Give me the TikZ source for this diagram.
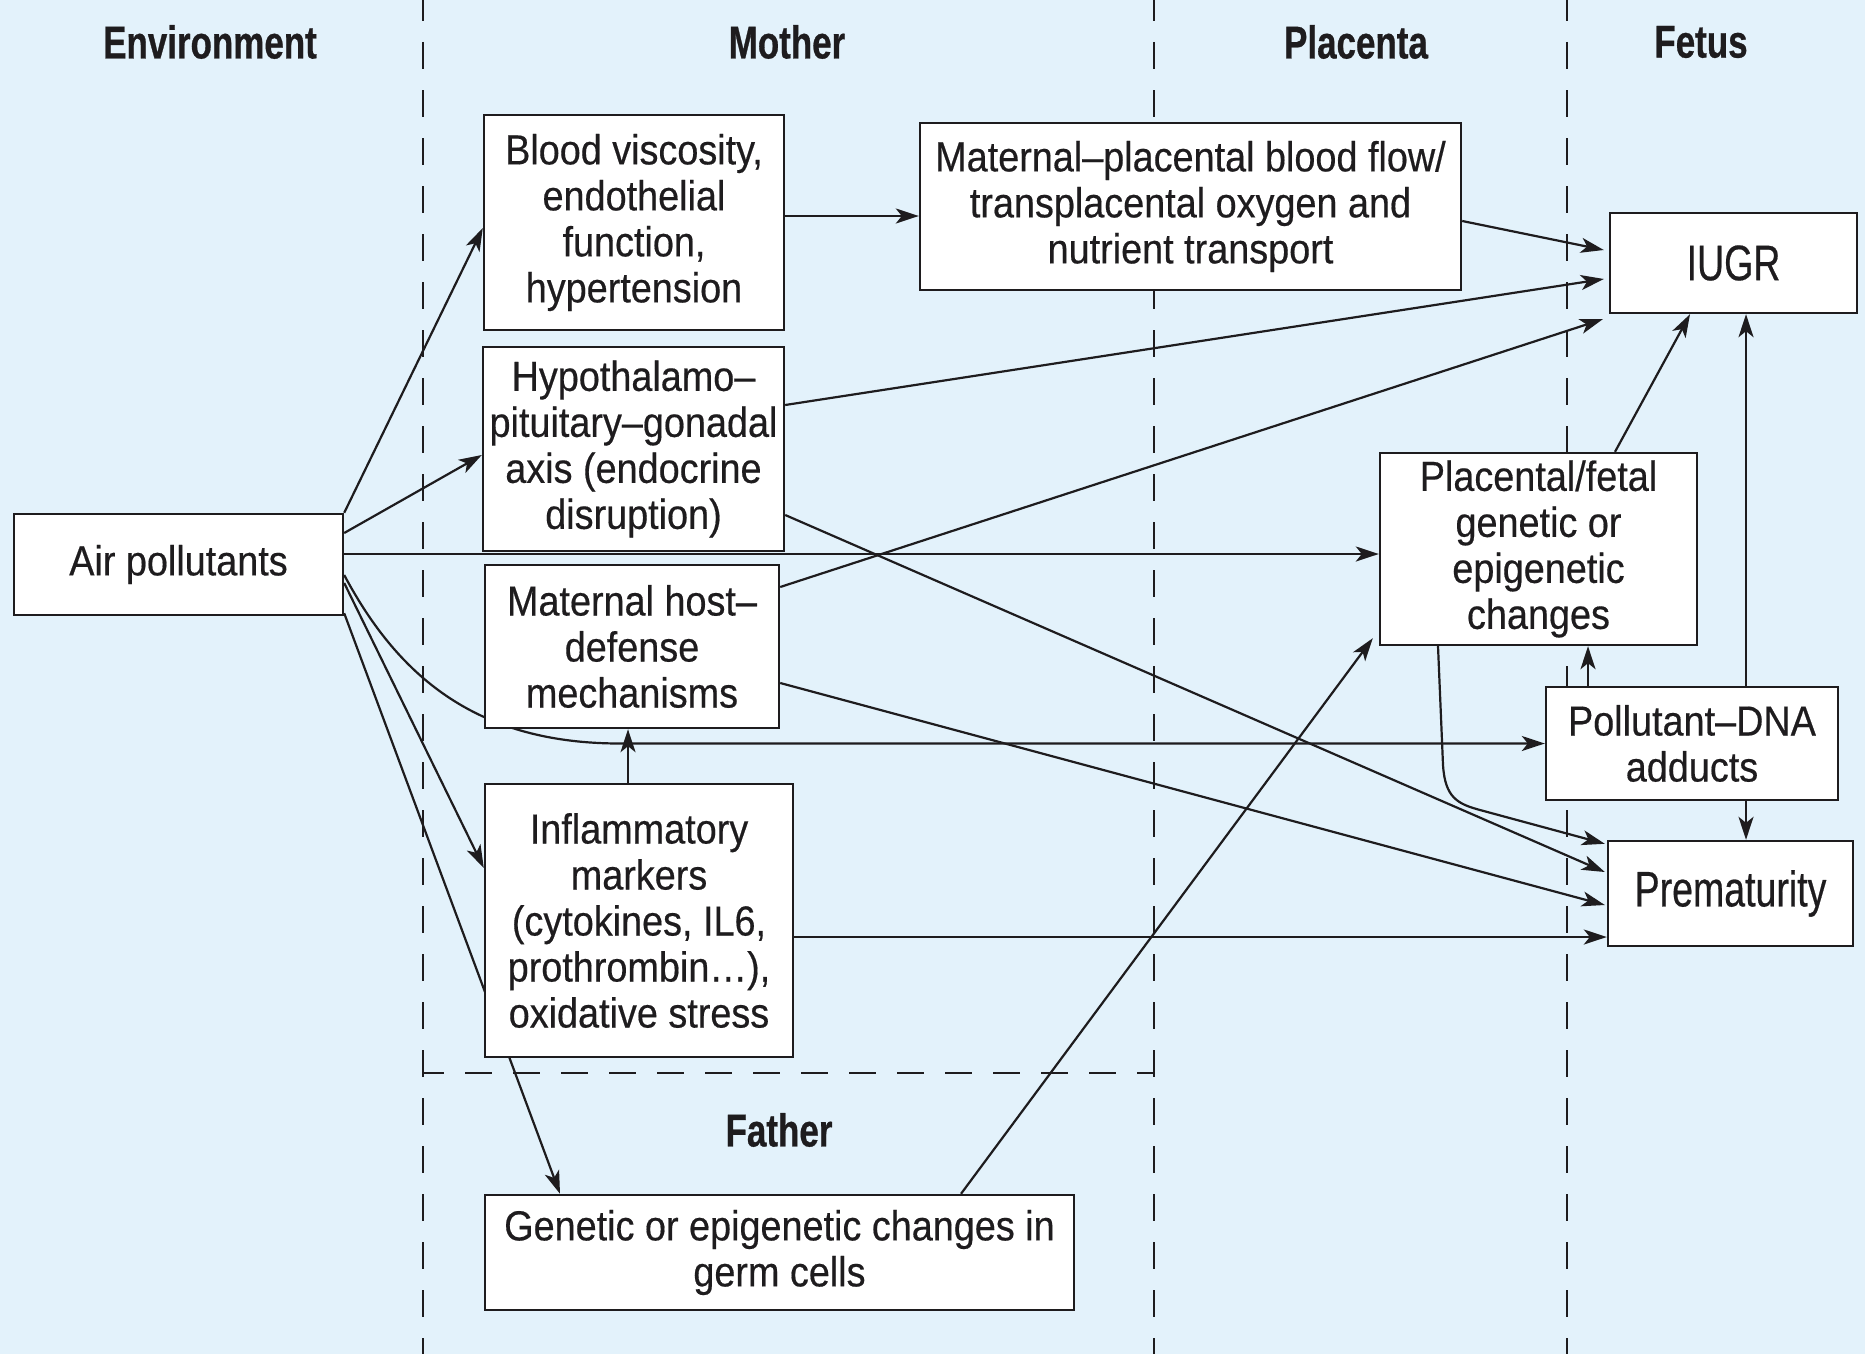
\documentclass[tikz,border=0pt]{standalone}
\usepackage{fontspec}
\setmainfont[FakeStretch=0.9,FakeBold=0.4]{Liberation Sans}
\newfontfamily\headfont[FakeStretch=0.76,FakeBold=0.6]{Liberation Sans}
\newfontfamily\bigfont[FakeStretch=0.75,FakeBold=0.4]{Liberation Sans}
\usetikzlibrary{arrows.meta}
\definecolor{bgblue}{RGB}{227,242,251}
\definecolor{ink}{RGB}{30,28,30}
\pgfdeclarelayer{bg}
\pgfdeclarelayer{lines}
\pgfsetlayers{bg,lines,main}
\begin{document}
\begin{tikzpicture}[x=1pt,y=-1pt,
  box/.style={draw=ink,line width=2.4pt,fill=white,inner sep=0pt,align=center,text=ink,
    font=\fontsize{42}{46}\selectfont},
  bigbox/.style={box,font=\bigfont\fontsize{50}{54}\selectfont},
  head/.style={text=ink,inner sep=0pt,font=\headfont\bfseries\fontsize{46}{50}\selectfont},
  conn/.style={draw=ink,line width=2.2pt,-{Stealth[length=23pt,width=15pt,inset=6pt]}},
  divider/.style={draw=ink,line width=2pt,dash pattern=on 27pt off 21pt,dash phase=6pt}]
\useasboundingbox (0,0) rectangle (1865,1354);
\begin{pgfonlayer}{bg}
  \fill[bgblue] (0,0) rectangle (1865,1354);
  \draw[divider] (423,0) -- (423,1354);
  \draw[divider] (1154,0) -- (1154,1354);
  \draw[divider] (1567,0) -- (1567,1354);
  \draw[divider] (423,1073) -- (1154,1073);
\end{pgfonlayer}

% headings
\node[head] (henv) at (210,42) {Environment};
\node[head] (hmot) at (787,42) {Mother};
\node[head] (hpla) at (1356,42) {Placenta};
\node[head] (hfet) at (1701,42) {Fetus};
\node[head] (hfat) at (779,1130) {Father};

% boxes
\node[box,minimum width=329pt,minimum height=101pt] (air) at (178.5,564.5) {Air pollutants};
\node[box,minimum width=300pt,minimum height=215pt] (blood) at (634,222.5)
  {Blood viscosity,\\endothelial\\function,\\hypertension};
\node[box,minimum width=301pt,minimum height=204pt] (hypo) at (633.5,449)
  {Hypothalamo–\\pituitary–gonadal\\axis (endocrine\\disruption)};
\node[box,minimum width=294pt,minimum height=163pt] (host) at (632,646.5)
  {Maternal host–\\defense\\mechanisms};
\node[box,minimum width=308pt,minimum height=273pt] (infl) at (639,920.5)
  {Inflammatory\\markers\\(cytokines, IL6,\\prothrombin…),\\oxidative stress};
\node[box,minimum width=541pt,minimum height=167pt] (mpbf) at (1190.5,206.5)
  {Maternal–placental blood flow/\\transplacental oxygen and\\nutrient transport};
\node[bigbox,minimum width=247pt,minimum height=100pt] (iugr) at (1733.5,263) {IUGR};
\node[box,minimum width=317pt,minimum height=192pt] (plac) at (1538.5,549)
  {Placental/fetal\\genetic or\\epigenetic\\changes};
\node[box,minimum width=292pt,minimum height=113pt] (pdna) at (1692,743.5)
  {Pollutant–DNA\\adducts};
\node[bigbox,minimum width=245pt,minimum height=105pt] (prem) at (1730.5,893.5) {Prematurity};
\node[box,minimum width=589pt,minimum height=115pt] (germ) at (779.5,1252.5)
  {Genetic or epigenetic changes in\\germ cells};

% connectors
\begin{pgfonlayer}{lines}
  \draw[conn] (air.north east) -- ([yshift=-5.5pt]blood.west);
  \draw[conn] ([yshift=31.5pt]air.east) -- ([yshift=-6pt]hypo.west);
  \draw[conn] ([yshift=10.5pt]air.east) -- ([yshift=10.5pt]air.east -| plac.west);
  \draw[conn] ([yshift=-10.5pt]air.east) .. controls (400,680) and (480,743.5) .. (620,743.5) -- (pdna.west);
  \draw[conn] ([yshift=-18.5pt]air.east) -- ([yshift=52.5pt]infl.west);
  \draw[conn] ([yshift=3pt]air.south east) -- ([xshift=-219.5pt]germ.north);
  \draw[conn] ([yshift=6.5pt]blood.east) -- ([yshift=6.5pt]blood.east -| mpbf.west);
  \draw[conn] ([yshift=-14.5pt]mpbf.east) -- ([xshift=-5pt,yshift=13pt]iugr.west);
  \draw[conn] ([yshift=44pt]hypo.east) -- ([xshift=-5pt,yshift=-16pt]iugr.west);
  \draw[conn] ([yshift=59.5pt]host.east) -- ([xshift=-6pt,yshift=-5pt]iugr.south west);
  \draw[conn] ([yshift=-66pt]hypo.east) -- ([xshift=-2pt,yshift=21.5pt]prem.west);
  \draw[conn] ([yshift=-36.5pt]host.east) -- ([xshift=-2pt,yshift=-11.5pt]prem.west);
  \draw[conn] ([yshift=-16.5pt]infl.east) -- ([yshift=-16.5pt]infl.east -| prem.west);
  \draw[conn] ([xshift=-11pt]infl.north) -- ([xshift=-11pt]infl.north |- host.south);
  \draw[conn] ([xshift=181.5pt]germ.north) -- ([xshift=-6pt,yshift=8pt]plac.south west);
  \draw[conn] ([xshift=76.5pt]plac.north) -- ([xshift=-43.5pt]iugr.south);
  \draw[conn] ([xshift=54pt]pdna.north) -- ([xshift=54pt]pdna.north |- iugr.south);
  \draw[conn] ([xshift=-104pt]pdna.north) -- ([xshift=-104pt]pdna.north |- plac.south);
  \draw[conn] ([xshift=54pt]pdna.south) -- ([xshift=54pt]pdna.south |- prem.north);
  \draw[conn] ([xshift=-100.5pt]plac.south) -- (1443,765) .. controls (1445,798) and (1458,804) .. (1480,810) -- ([xshift=-2pt,yshift=-4pt]prem.north west);
\end{pgfonlayer}
\end{tikzpicture}
\end{document}
